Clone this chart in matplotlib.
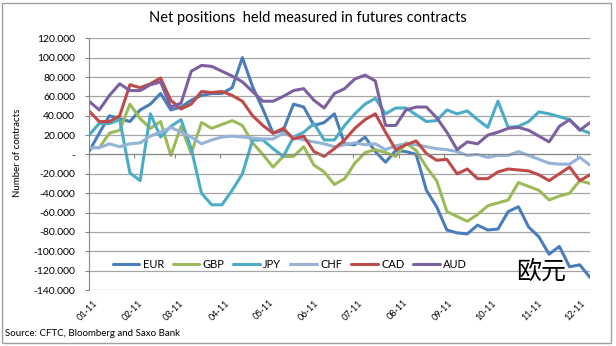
import numpy as np
import pandas as pd
import matplotlib
matplotlib.use('Agg')
import matplotlib.pyplot as plt
import matplotlib.dates as mdates
from matplotlib.ticker import FuncFormatter, MultipleLocator
from matplotlib.transforms import ScaledTranslation
from matplotlib.patches import Rectangle

plt.rcParams['font.family'] = ['Lato', 'DejaVu Sans']

# weekly CFTC report dates, 2011
weeks = pd.date_range('2011-01-04', periods=50, freq='7D')
tick_dates = [pd.Timestamp(2011, m, 4) for m in range(1, 13)]
tick_labels = [d.strftime('%m-%y') for d in tick_dates]

# net positions, thousands of contracts
eur = [3, 22, 40, 37, 34, 46, 52, 63, 46, 49, 56, 61, 63, 63, 69, 100, 70, 47, 22, 25,
       52, 49, 30, 33, 42, 11, 10, 18, 3, -8, 4, 3, 0, -37, -54, -78, -81, -82, -73, -78,
       -77, -59, -54, -75, -85, -103, -95, -116, -114, -127]
gbp = [7, 7, 22, 25, 52, 37, 27, 34, -1, 29, 1, 33, 27, 31, 35, 30, 12, 0, -13, -2,
       -2, 8, -11, -18, -31, -25, -9, 2, 5, 2, -2, 12, 4, -13, -27, -59, -64, -69, -62, -53,
       -50, -47, -29, -33, -37, -47, -43, -40, -27, -30]
jpy = [20, 32, 32, 36, -19, -27, 42, 18, 29, 36, 6, -40, -52, -52, -37, -20, 15, 15, 6, -2,
       18, 23, 32, 15, 15, 30, 42, 52, 58, 42, 48, 48, 41, 34, 35, 46, 42, 45, 36, 28,
       55, 28, 29, 34, 44, 42, 39, 36, 26, 22]
chf = [7, 7, 11, 8, 11, 12, 19, 23, 28, 23, 18, 11, 15, 18, 19, 18, 17, 16, 16, 22,
       18, 15, 13, 11, 8, 10, 12, 10, 11, 5, 9, 11, 10, 8, 6, 5, 3, -1, 0, -3,
       -1, -1, 3, -1, -5, -9, -10, -10, -3, -11]
cad = [45, 34, 34, 40, 72, 69, 73, 79, 56, 47, 52, 65, 64, 65, 61, 55, 40, 30, 22, 27,
       16, 19, 3, -2, 6, 15, 27, 36, 42, 23, 5, 10, 14, 1, -6, -5, -20, -15, -25, -25,
       -18, -15, -16, -17, -21, -27, -20, -13, -27, -21]
aud = [55, 46, 61, 73, 66, 66, 72, 75, 49, 53, 86, 92, 91, 86, 81, 75, 65, 55, 55, 60,
       66, 68, 56, 48, 63, 68, 78, 82, 76, 30, 30, 46, 49, 49, 38, 23, 5, 13, 11, 20,
       23, 27, 28, 25, 19, 13, 29, 36, 25, 33]

names = ['EUR', 'GBP', 'JPY', 'CHF', 'CAD', 'AUD']
values = [eur, gbp, jpy, chf, cad, aud]
colors = ['#4A7EBB', '#9BBB59', '#4BACC6', '#95B3D7', '#BE4B48', '#7D60A0']

x = mdates.date2num(weeks)
xt = mdates.date2num(tick_dates)

fig = plt.figure(figsize=(6.16, 3.46), dpi=100)
ax = fig.add_axes([0.1445, 0.1618, 0.8133, 0.7275])

for name, vals, c in zip(names, values, colors):
    ax.plot(x, np.array(vals) * 1000, color=c, lw=2.2, label=name,
            solid_joinstyle='round', solid_capstyle='round')

ax.set_xlim(x[0], x[-1])
ax.set_ylim(-140000, 120000)
ax.yaxis.set_major_locator(MultipleLocator(20000))
ax.yaxis.set_major_formatter(FuncFormatter(
    lambda v, p: '-' if v == 0 else f'{v:,.0f}'.replace(',', '.')))
ax.yaxis.grid(True, color='#A6A6A6', lw=0.9)
ax.set_axisbelow(True)

grey = '#868686'
for s in ['top', 'right']:
    ax.spines[s].set_visible(False)
ax.spines['left'].set_color(grey)
ax.spines['bottom'].set_color(grey)
ax.spines['bottom'].set_position(('data', 0))
ax.set_xticks(xt)
ax.tick_params(axis='x', direction='out', length=3, color=grey, labelbottom=False)
ax.tick_params(axis='y', length=3, color=grey, labelsize=7.5, pad=7)

sec = ax.secondary_xaxis('bottom')
sec.set_xticks(xt, labels=tick_labels)
sec.spines['bottom'].set_visible(False)
sec.tick_params(length=0, labelsize=6.5, pad=6)
for lab in sec.get_xticklabels():
    lab.set_rotation(45)
    lab.set_ha('right')
    lab.set_rotation_mode('anchor')
    lab.set_transform(lab.get_transform() + ScaledTranslation(3 / 72, 0, fig.dpi_scale_trans))

ax.legend(ncol=6, loc='center', bbox_to_anchor=(0.401, 0.103), frameon=False,
          fontsize=8, handlelength=2.4, handletextpad=0.3, columnspacing=0.8)

fig.text(0.5, 1 - 18 / 346, 'Net positions  held measured in futures contracts',
         ha='center', va='center', fontsize=10.5)
fig.text(18 / 616, 1 - 153 / 346, 'Number of contracts', rotation=90,
         ha='center', va='center', fontsize=7)
fig.text(5 / 616, 1 - 333 / 346, 'Source: CFTC, Bloomberg and Saxo Bank',
         ha='left', va='center', fontsize=7)
fig.text(541 / 616, 1 - 272 / 346, '欧元', family=['Noto Sans CJK SC', 'DejaVu Sans'],
         ha='center', va='center', fontsize=18)

fig.add_artist(Rectangle((2 / 616, 3 / 346), 609 / 616, 340 / 346, transform=fig.transFigure,
                         fill=False, edgecolor='#A0A0A0', lw=1))

fig.savefig('out.png', dpi=100)
